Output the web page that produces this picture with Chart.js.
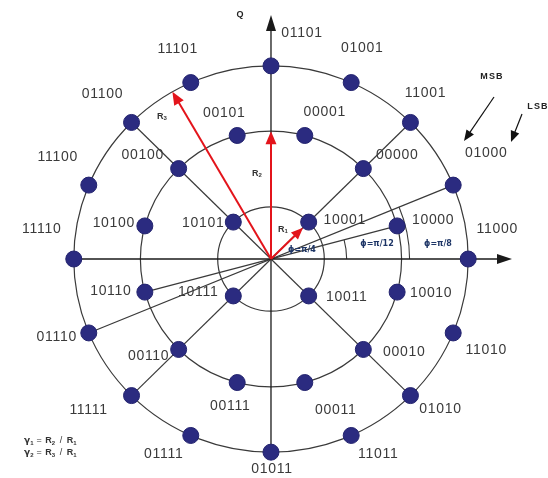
<!DOCTYPE html>
<html>
<head>
<meta charset="utf-8">
<script src="https://cdn.jsdelivr.net/npm/chart.js@4.4.1/dist/chart.umd.min.js"></script>
<style>
  html, body { margin: 0; padding: 0; background: #ffffff; }
  #wrap { width: 548px; height: 478px; position: relative; }
</style>
</head>
<body>
<div id="wrap"><canvas id="c"></canvas></div>
<script>
// 32APSK constellation: 4 + 12 + 16 symbols on three concentric rings.
// Ring radii, normalised so that R1 = 1  (gamma1 = R2/R1, gamma2 = R3/R1)
const ringRadius = [1, 2.45, 3.7];

// Inner ring (R1)
const innerAngles = [45, 135, 225, 315];
const innerBits   = ['10001', '10101', '10111', '10011'];

// Middle ring (R2)
const middleAngles = [15, 45, 75, 105, 135, 165, 195, 225, 255, 285, 315, 345];
const middleBits   = ['10000', '00000', '00001', '00101', '00100', '10100',
                      '10110', '00110', '00111', '00011', '00010', '10010'];

// Outer ring (R3)
const outerAngles = [0, 22.5, 45, 66, 90, 114, 135, 157.5,
                     180, 202.5, 225, 246, 270, 294, 315, 337.5];
const outerBits   = ['11000', '01000', '11001', '01001', '01101', '11101', '01100', '11100',
                     '11110', '01110', '11111', '01111', '01011', '11011', '01010', '11010'];

// Angles marked on the diagram
const phaseLabels = ['\u03d5=\u03c0/4', '\u03d5=\u03c0/12', '\u03d5=\u03c0/8'];

// ---- layout (pixel offsets of the bit labels from their symbol) ----
const labelOffset = {
  '11000': [29, -30], '01000': [33, -32], '11001': [15, -29], '01001': [11, -34],
  '01101': [31, -33], '11101': [-13, -33], '01100': [-29, -28], '11100': [-31, -28],
  '11110': [-32, -30], '01110': [-32, 4], '11111': [-43, 15], '01111': [-27, 19],
  '01011': [1, 17], '11011': [27, 19], '01010': [30, 14], '11010': [33, 17],
  '10000': [36, -6], '00000': [34, -13], '00001': [20, -23], '00101': [-13, -22],
  '00100': [-36, -13], '10100': [-31, -3], '10110': [-34, -1], '00110': [-30, 7],
  '00111': [-7, 24], '00011': [31, 28], '00010': [41, 3], '10010': [34, 1],
  '10001': [36, -2], '10101': [-30, 1], '10111': [-35, -4], '10011': [38, 1]
};

const DEG = Math.PI / 180;
const polar = (r, a) => ({ x: r * Math.cos(a * DEG), y: r * Math.sin(a * DEG) });
const ringPoints = (angles, bits, r) => angles.map((a, i) => Object.assign(polar(r, a), { bits: bits[i] }));

const innerPts  = ringPoints(innerAngles, innerBits, ringRadius[0]);
const middlePts = ringPoints(middleAngles, middleBits, ringRadius[1]);
const outerPts  = ringPoints(outerAngles, outerBits, ringRadius[2]);

const DOT = '#2b2b80';
const LINE = '#3a3a3a';
const RED = '#e3141b';

function arrow(ctx, x0, y0, x1, y1, color, w, len, wid) {
  const a = Math.atan2(y1 - y0, x1 - x0);
  const c = Math.cos(a), s = Math.sin(a);
  ctx.save();
  ctx.strokeStyle = color; ctx.fillStyle = color; ctx.lineWidth = w;
  ctx.beginPath(); ctx.moveTo(x0, y0); ctx.lineTo(x1 - len * 0.7 * c, y1 - len * 0.7 * s); ctx.stroke();
  ctx.beginPath();
  ctx.moveTo(x1, y1);
  ctx.lineTo(x1 - len * c + wid / 2 * s, y1 - len * s - wid / 2 * c);
  ctx.lineTo(x1 - len * c - wid / 2 * s, y1 - len * s + wid / 2 * c);
  ctx.closePath(); ctx.fill();
  ctx.restore();
}

// R with a subscript index
function rLabel(ctx, text, sub, x, y, size) {
  ctx.save();
  ctx.font = 'bold ' + size + 'px "Liberation Sans", Arial, sans-serif';
  ctx.textAlign = 'left'; ctx.textBaseline = 'middle';
  const w = ctx.measureText(text).width;
  ctx.fillText(text, x, y);
  ctx.font = 'bold ' + Math.round(size * 0.7) + 'px "Liberation Sans", Arial, sans-serif';
  ctx.fillText(sub, x + w, y + size * 0.25);
  ctx.restore();
  return w;
}

const decor = {
  id: 'apskDecor',
  beforeDatasetsDraw(chart) {
    const ctx = chart.ctx;
    const xs = chart.scales.x, ys = chart.scales.y;
    const P = (x, y) => [xs.getPixelForValue(x), ys.getPixelForValue(y)];
    const PP = (r, a) => { const p = polar(r, a); return P(p.x, p.y); };
    const [cx, cy] = P(0, 0);
    const kx = xs.getPixelForValue(1) - cx;
    const ky = cy - ys.getPixelForValue(1);

    ctx.save();
    ctx.strokeStyle = LINE; ctx.lineWidth = 1.2;

    // rings
    ringRadius.forEach(r => {
      ctx.beginPath(); ctx.ellipse(cx, cy, r * kx, r * ky, 0, 0, 2 * Math.PI); ctx.stroke();
    });

    // diagonal spokes through the 45-degree symbols
    [45, 135, 225, 315].forEach(a => {
      const [x, y] = PP(ringRadius[2], a);
      ctx.beginPath(); ctx.moveTo(cx, cy); ctx.lineTo(x, y); ctx.stroke();
    });
    // diameters at 22.5 deg (outer ring) and 15 deg (middle ring)
    [[ringRadius[2], 22.5], [ringRadius[1], 15]].forEach(([r, a]) => {
      const [x0, y0] = PP(r, a), [x1, y1] = PP(r, a + 180);
      ctx.beginPath(); ctx.moveTo(x1, y1); ctx.lineTo(x0, y0); ctx.stroke();
    });

    // angle arcs
    ctx.lineWidth = 1.1;
    [[1.42, 15], [2.6, 22.5]].forEach(([r, a]) => {
      ctx.beginPath(); ctx.ellipse(cx, cy, r * kx, r * ky, 0, -a * DEG, 0); ctx.stroke();
    });

    // I / Q axes
    const [lx] = PP(ringRadius[2], 180);
    const [, by] = PP(ringRadius[2], 270);
    arrow(ctx, lx, cy, 512, cy, '#1a1a1a', 1.3, 15, 10);
    arrow(ctx, cx, by, cx, 15, '#1a1a1a', 1.3, 16, 10);

    // radius arrows
    const t1 = PP(ringRadius[0] * 0.85, 45);
    const t2 = PP(ringRadius[1], 90);
    const t3 = PP(ringRadius[2], 120);
    arrow(ctx, cx, cy, t1[0], t1[1], RED, 2, 12, 10);
    arrow(ctx, cx, cy, t2[0], t2[1], RED, 2, 13, 11);
    arrow(ctx, cx, cy, t3[0], t3[1], RED, 2, 13, 11);
    ctx.restore();
  },
  afterDatasetsDraw(chart) {
    const ctx = chart.ctx;
    const xs = chart.scales.x, ys = chart.scales.y;
    const P = (x, y) => [xs.getPixelForValue(x), ys.getPixelForValue(y)];
    const [cx, cy] = P(0, 0);

    ctx.save();
    // bit labels
    ctx.font = '14px "Liberation Sans", Arial, sans-serif';
    ctx.letterSpacing = '0.7px';
    ctx.fillStyle = '#3a3a3a';
    ctx.textAlign = 'center'; ctx.textBaseline = 'middle';
    [innerPts, middlePts, outerPts].forEach(set => set.forEach(p => {
      const [x, y] = P(p.x, p.y);
      const o = labelOffset[p.bits];
      ctx.fillText(p.bits, x + o[0], y + o[1]);
    }));
    ctx.letterSpacing = '0px';

    // axis name
    ctx.fillStyle = '#222';
    ctx.font = 'bold 9px "Liberation Sans", Arial, sans-serif';
    ctx.fillText('Q', cx - 31, 15);

    // radius names
    ctx.fillStyle = '#333';
    rLabel(ctx, 'R', '1', cx + 7, cy - 30, 9);
    rLabel(ctx, 'R', '2', cx - 19, cy - 86, 9);
    rLabel(ctx, 'R', '3', cx - 114, cy - 143, 9);

    // phase annotations
    ctx.fillStyle = '#1d3566';
    ctx.font = 'bold 8px "DejaVu Sans", sans-serif';
    ctx.textAlign = 'center';
    ctx.fillText(phaseLabels[0], cx + 31, cy - 9);
    ctx.fillText(phaseLabels[1], cx + 106, cy - 15);
    ctx.fillText(phaseLabels[2], cx + 167, cy - 15);

    // bit order pointers
    ctx.fillStyle = '#222';
    ctx.font = 'bold 9px "Liberation Sans", Arial, sans-serif';
    ctx.letterSpacing = '1.2px';
    ctx.fillText('MSB', 492, 77);
    ctx.fillText('LSB', 538, 107);
    ctx.letterSpacing = '0px';
    arrow(ctx, 494, 97, 464, 141, '#111', 1.2, 11, 9);
    arrow(ctx, 522, 114, 511, 142, '#111', 1.2, 11, 9);

    // ring ratio definitions
    ctx.fillStyle = '#333';
    ctx.textAlign = 'left';
    const defs = [['\u03b3', '1', '2', 441], ['\u03b3', '2', '3', 453]];
    defs.forEach(([g, gi, ri, y]) => {
      let x = 24;
      ctx.font = 'bold 9px "DejaVu Sans", sans-serif';
      ctx.fillText(g, x, y); x += ctx.measureText(g).width;
      ctx.font = 'bold 6px "Liberation Sans", Arial, sans-serif';
      ctx.fillText(gi, x, y + 2); x += ctx.measureText(gi).width + 3;
      ctx.font = '9px "Liberation Sans", Arial, sans-serif';
      ctx.fillText('=', x, y); x += ctx.measureText('= ').width + 1;
      x += rLabel(ctx, 'R', ri, x, y, 9) + 8;
      ctx.font = '9px "Liberation Sans", Arial, sans-serif';
      ctx.fillText('/', x, y); x += 7;
      rLabel(ctx, 'R', '1', x, y, 9);
    });
    ctx.restore();
  }
};

const dotStyle = {
  pointRadius: 8, pointHoverRadius: 8,
  backgroundColor: DOT, borderColor: '#23236e', borderWidth: 1, clip: false
};

new Chart(document.getElementById('c'), {
  type: 'scatter',
  data: {
    datasets: [
      Object.assign({ label: 'R1', data: innerPts }, dotStyle),
      Object.assign({ label: 'R2', data: middlePts }, dotStyle),
      Object.assign({ label: 'R3', data: outerPts }, dotStyle)
    ]
  },
  options: {
    responsive: true,
    maintainAspectRatio: false,
    animation: false,
    layout: { padding: 0, autoPadding: false },
    plugins: { legend: { display: false }, tooltip: { enabled: false } },
    scales: {
      x: { type: 'linear', display: false, min: -5.084, max: 5.197 },
      y: { type: 'linear', display: false, min: -4.195, max: 4.962 }
    }
  },
  plugins: [decor]
});
</script>
</body>
</html>
